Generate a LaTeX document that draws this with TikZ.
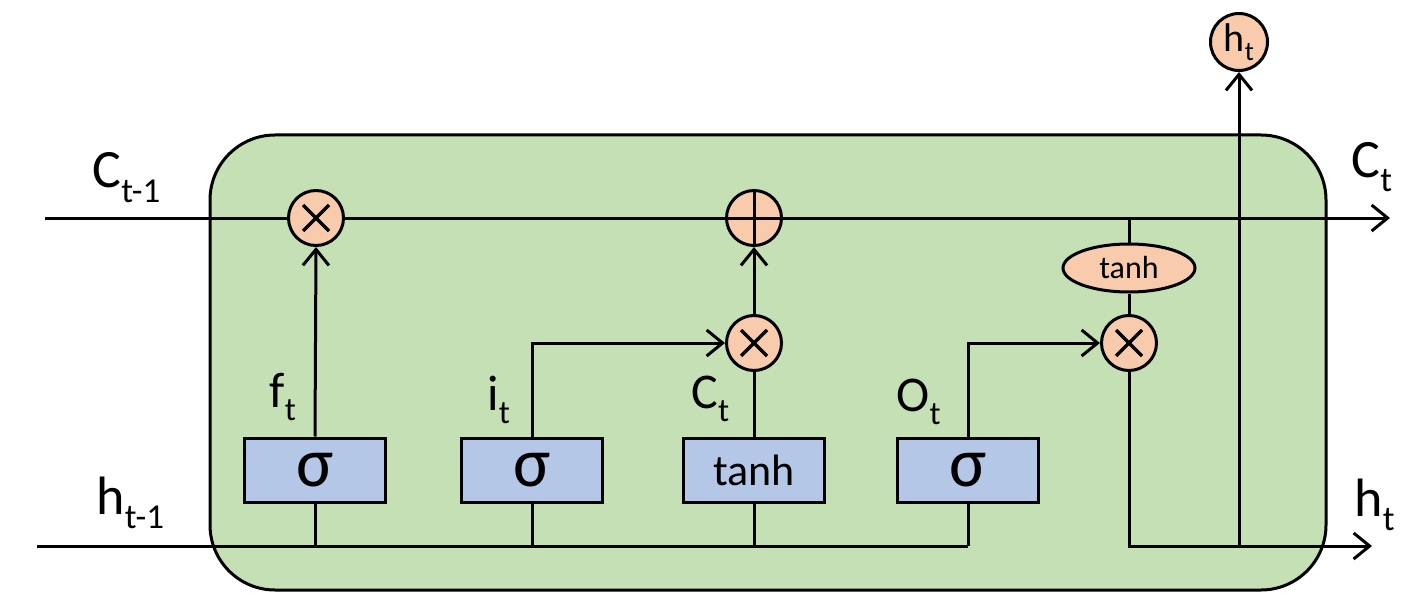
\documentclass[tikz,border=0pt]{standalone}
\usepackage{fontspec}
\setmainfont{Carlito}
\usetikzlibrary{arrows.meta,shapes.geometric}
\definecolor{cellfill}{HTML}{C5E0B4}
\definecolor{gatefill}{HTML}{B4C7E7}
\definecolor{opfill}{HTML}{F8CBAD}
\newcommand\lsub[1]{\raisebox{-14pt}{\fontsize{35}{35}\selectfont #1}}
\newcommand\msub[1]{\raisebox{-13pt}{\fontsize{33}{33}\selectfont #1}}
\newcommand\ssub[1]{\raisebox{-9pt}{\fontsize{27}{27}\selectfont #1}}
\begin{document}
\begin{tikzpicture}[x=1pt,y=-1pt,line width=3pt,
  arr/.style={-{Straight Barb[length=16pt,width=26pt,line width=3pt]}},
  op/.style={circle,draw,fill=opfill,minimum size=55pt,inner sep=0pt},
  gate/.style={rectangle,draw,fill=gatefill,minimum width=141pt,minimum height=64pt,inner sep=0pt},
  sig/.style={gate,font=\fontsize{70}{70}\selectfont},
  lbl/.style={font=\fontsize{54}{54}\selectfont,inner sep=0pt,anchor=base west},
  mlbl/.style={font=\fontsize{50}{50}\selectfont,inner sep=0pt,anchor=base west},
  crs/.style={line width=3.5pt}]
\useasboundingbox (0,0) rectangle (1401,607);
% cell
\draw[fill=cellfill,rounded corners=65pt] (210,135) rectangle (1326,590);
% operator nodes
\node[op] (fm) at (316,218) {};
\node[op] (pl) at (754,218) {};
\node[op] (mm) at (754,343) {};
\node[op] (om) at (1129,343) {};
\node[op,minimum size=57pt] (ht) at (1239,42) {\fontsize{40}{40}\selectfont\raisebox{2pt}{h\ssub{t}}};
\node[ellipse,draw,fill=opfill,minimum width=132pt,minimum height=48pt,inner sep=0pt,font=\fontsize{32}{32}\selectfont] (th) at (1129,268) {tanh};
% gates
\node[sig] (fg) at (315,470) {σ};
\node[sig] (ig) at (532,470) {σ};
\node[gate,font=\fontsize{44}{44}\selectfont] (tg) at (754,470) {tanh};
\node[sig] (og) at (968,470) {σ};
% crosses and plus
\foreach \n in {fm,mm,om}{
  \draw[crs] (\n.center) ++(-13,-13) -- ++(26,26);
  \draw[crs] (\n.center) ++(-13,13) -- ++(26,-26);
}
\draw (pl.north) -- (pl.south);
\draw (pl.west) -- (pl.east);
% coordinates
\coordinate (cin) at (45,218);
\coordinate (cout) at (1390,218);
\coordinate (hin) at (37,546);
\coordinate (hend) at (968,546);
\coordinate (hout) at (1372,546);
\coordinate (tj) at (1129,218);
% cell state line
\draw (cin) -- (fm.west);
\draw (fm.east) -- (pl.west);
\draw[arr] (pl.east) -- (cout);
% hidden input line
\draw (hin) -- (hend);
\foreach \g in {fg,ig,tg,og}{
  \draw (\g.south) -- (\g.south |- hin);
}
% gate outputs
\draw[arr] (fg.north) -- (fm.south);
\draw[arr] (ig.north) |- (mm.west);
\draw (tg.north) -- (mm.south);
\draw[arr] (mm.north) -- (pl.south);
\draw[arr] (og.north) |- (om.west);
\draw (tj) -- (th.north);
\draw (th.south) -- (om.north);
\draw[arr] (om.south) |- (hout);
\coordinate (hj) at (ht.center |- hout);
\draw[arr] (hj) -- (ht.south);
% labels
\node[lbl] (lc1) at (91,188) {C\lsub{t-1}};
\node[lbl] (lh1) at (95,514) {h\lsub{t-1}};
\node[mlbl] (lf) at (268,407) {f\msub{t}};
\node[mlbl] (li) at (486,410) {i\msub{t}};
\node[mlbl] (lct) at (690,408) {C\msub{t}};
\node[mlbl] (lo) at (895,411) {O\msub{t}};
\node[lbl] (lc2) at (1350,178) {C\lsub{t}};
\node[lbl] (lh2) at (1353,516) {h\lsub{t}};
\end{tikzpicture}
\end{document}
